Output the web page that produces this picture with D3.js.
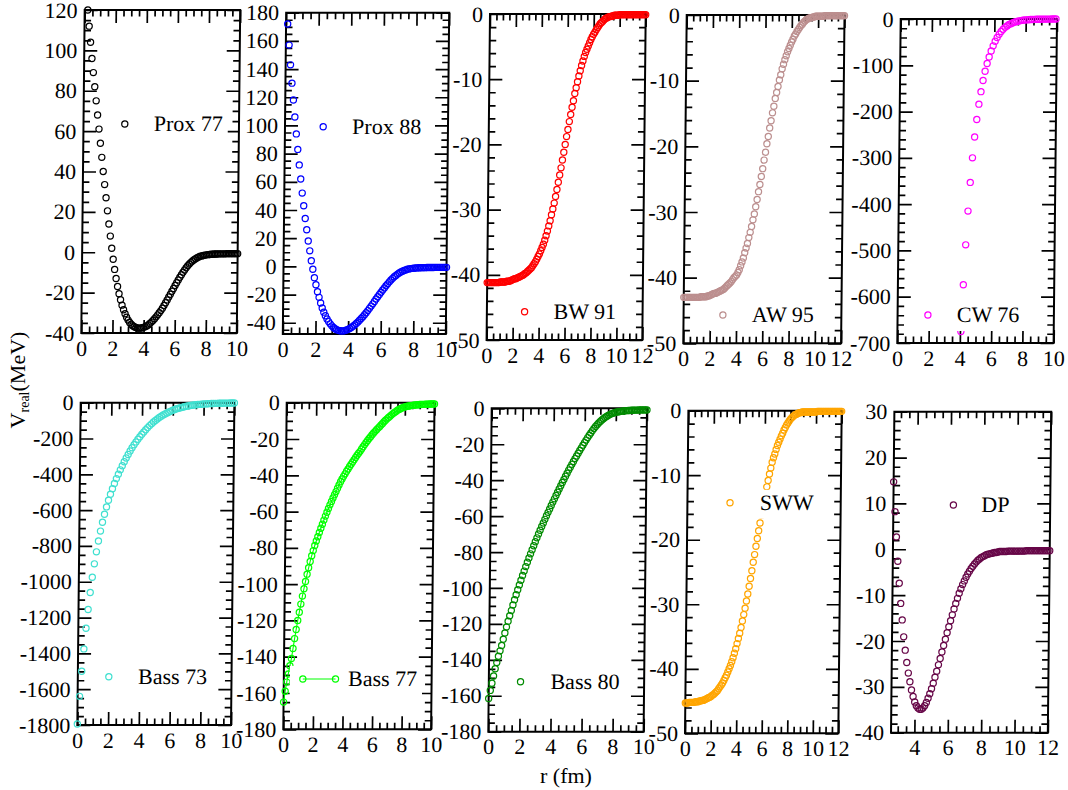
<!DOCTYPE html>
<html>
<head>
<meta charset="utf-8">
<script src="https://cdn.jsdelivr.net/npm/d3@7"></script>
<style>
body { margin: 0; background: #fff; }
text { font-family: "Liberation Serif", "Times New Roman", serif; }
</style>
</head>
<body>
<svg id="chart" width="1068" height="790"></svg>
<script>
// ---- data: V_real (MeV) sampled on r = rStart + i*rStep ----
var names  = ["Prox 77", "Prox 88", "BW 91", "AW 95", "CW 76", "Bass 73", "Bass 77", "Bass 80", "SWW", "DP"];
var colors = ["#000000", "#0000ff", "#ff0000", "#bc8f8f", "#ff00ff", "#40e0d0", "#00ff00", "#008b00", "#ffa500", "#670748"];
var rStart = [0.2, 0.1, 0, 0, 4.06, 0, 0, 0, 0, 2.6];
var rStep  = [0.1, 0.1, 0.1, 0.1, 0.125, 0.125, 0.1, 0.1, 0.1, 0.1];

var xDomains = [[0,10],[0,10],[0,12],[0,12],[0,10],[0,10],[0,10],[0,10],[0,12],[2.6,12]];
var yDomains = [[-40,120],[-48,180],[-50,0],[-50,0],[-700,0],[-1800,0],[-180,0],[-180,0],[-50,0],[-40,30]];
var yMajor = [20, 20, 10, 10, 100, 200, 20, 20, 10, 10];
var yMinor = [5, 5, 2, 2, 20, 50, 5, 5, 2, 2];
var xMajor = 2, xMinor = 0.5;

var prox77 = [120,112,104,96,89,82,75,68,61,54,
  47,40,33.5,27,20.5,14,8,2,-3.5,-8.5,
  -13,-17,-20.5,-23.5,-26.2,-28.5,-30.5,-32.2,-33.6,-34.8,
  -35.7,-36.4,-36.9,-37.3,-37.5,-37.6,-37.6,-37.4,-37.2,-36.9,
  -36.5,-36.0,-35.3,-34.6,-33.8,-32.9,-32.0,-31.0,-30.0,-28.9,
  -27.7,-26.4,-25.0,-23.6,-22.2,-20.8,-19.3,-17.9,-16.5,-15.1,
  -13.7,-12.4,-11.1,-9.9,-8.8,-7.7,-6.7,-5.8,-5.0,-4.3,
  -3.7,-3.2,-2.7,-2.3,-2.0,-1.8,-1.6,-1.4,-1.3,-1.2,
  -1.1,-1.0,-1.0,-0.9,-0.9,-0.9,-0.8,-0.8,-0.8,-0.8,
  -0.8,-0.7,-0.7,-0.7,-0.7,-0.7,-0.7,-0.7,-0.7];

var prox88 = [172,157,143,130,118,106,94,83,72,62,
  52,43,34,26,18,11,4,-2,-8,-13,
  -18,-22,-26,-29.5,-32.5,-35,-37.3,-39.2,-40.8,-42.2,
  -43.3,-44.2,-44.9,-45.4,-45.7,-45.8,-45.8,-45.6,-45.2,-44.7,
  -44.1,-43.4,-42.5,-41.6,-40.5,-39.4,-38.2,-37.0,-35.7,-34.3,
  -32.9,-31.4,-29.8,-28.2,-26.6,-24.9,-23.2,-21.6,-20.0,-18.4,
  -16.8,-15.3,-13.8,-12.4,-11.0,-9.7,-8.5,-7.4,-6.4,-5.5,
  -4.7,-4.0,-3.4,-2.9,-2.5,-2.1,-1.8,-1.6,-1.4,-1.3,
  -1.2,-1.1,-1.0,-1.0,-0.9,-0.9,-0.9,-0.8,-0.8,-0.8,
  -0.8,-0.8,-0.7,-0.7,-0.7,-0.7,-0.7,-0.7,-0.7,-0.7];

var bw91 = [-41.2,-41.2,-41.2,-41.2,-41.2,-41.2,-41.2,-41.2,-41.2,-41.2,
  -41.1,-41.1,-41.1,-41.1,-41.1,-41.0,-41.0,-41.0,-40.9,-40.8,
  -40.7,-40.6,-40.6,-40.5,-40.4,-40.3,-40.2,-40.1,-40.0,-39.8,
  -39.7,-39.5,-39.3,-39.1,-38.9,-38.6,-38.3,-38.0,-37.6,-37.2,
  -36.8,-36.3,-35.8,-35.3,-34.7,-34.0,-33.3,-32.5,-31.7,-30.8,
  -29.9,-29.0,-28.0,-26.9,-25.8,-24.7,-23.6,-22.4,-21.2,-20.0,
  -18.8,-17.7,-16.5,-15.4,-14.3,-13.3,-12.2,-11.3,-10.4,-9.5,
  -8.7,-7.9,-7.2,-6.5,-5.9,-5.4,-4.9,-4.4,-3.9,-3.5,
  -3.1,-2.8,-2.4,-2.1,-1.8,-1.5,-1.3,-1.1,-0.9,-0.7,
  -0.6,-0.5,-0.4,-0.4,-0.3,-0.3,-0.2,-0.2,-0.2,-0.2,
  -0.1,-0.1,-0.1,-0.1,-0.1,-0.1,-0.1,-0.1,-0.1,-0.1,
  -0.1,-0.1,-0.1,-0.1,-0.1,-0.1,-0.1,-0.1,-0.1,-0.1,-0.1];

var aw95 = [-43.0,-43.0,-43.0,-43.0,-43.0,-43.0,-43.0,-43.0,-43.0,-43.0,
  -43.0,-43.0,-43.0,-42.9,-42.9,-42.9,-42.9,-42.9,-42.8,-42.8,
  -42.7,-42.6,-42.5,-42.4,-42.4,-42.3,-42.2,-42.1,-42.0,-41.9,
  -41.8,-41.6,-41.4,-41.2,-41.0,-40.8,-40.6,-40.3,-40.0,-39.8,
  -39.6,-39.2,-38.8,-38.2,-37.6,-37.0,-36.2,-35.5,-34.8,-33.9,
  -33.1,-32.2,-31.2,-30.3,-29.2,-28.1,-26.9,-25.8,-24.6,-23.4,
  -22.1,-20.9,-19.6,-18.5,-17.2,-16.1,-14.9,-13.9,-12.7,-11.8,
  -10.9,-9.9,-9.1,-8.2,-7.5,-6.8,-6.2,-5.6,-5.1,-4.6,
  -4.1,-3.7,-3.2,-2.9,-2.5,-2.2,-1.9,-1.6,-1.4,-1.1,
  -0.9,-0.7,-0.6,-0.5,-0.4,-0.4,-0.3,-0.3,-0.2,-0.2,
  -0.2,-0.2,-0.2,-0.2,-0.2,-0.1,-0.1,-0.1,-0.1,-0.1,
  -0.1,-0.1,-0.1,-0.1,-0.1,-0.1,-0.1,-0.1,-0.1,-0.1,-0.1];

var cw76 = [-675,-574,-488,-415,-353,-300,-255,-217,-184,-157,
  -133,-113,-96,-82,-69,-58,-48,-40,-33,-27,
  -22,-18,-15,-12,-10,-8,-6.5,-5.3,-4.3,-3.5,
  -2.8,-2.3,-1.8,-1.5,-1.2,-1.0,-0.8,-0.6,-0.5,-0.4,
  -0.3,-0.3,-0.2,-0.2,-0.2,-0.1,-0.1,-0.1];

var bass73 = [-1794,-1640,-1500,-1375,-1260,-1155,-1060,-975,-900,-833,
  -772,-717,-668,-623,-582,-545,-511,-480,-451,-424,
  -399,-375,-352,-330,-309,-289,-270,-252,-235,-219,
  -204,-190,-176,-163,-151,-139,-128,-118,-108,-99,
  -91,-83,-76,-69,-63,-57,-52,-47,-42,-38,
  -34,-31,-28,-25,-22.5,-20,-18,-16,-14.5,-13,
  -11.5,-10.3,-9.2,-8.3,-7.4,-6.6,-5.9,-5.3,-4.8,-4.3,
  -3.9,-3.5,-3.2,-2.9,-2.7,-2.5,-2.3,-2.1,-2.0,-1.9,-1.8];

var bass77 = [-165,-159,-154,-149.5,-145,-141,-135.5,-130,-125,-120,
  -115.5,-111,-106.6,-102.5,-98.5,-94.5,-91,-87.5,-84.3,-81.5,
  -78.7,-76.2,-73.9,-71.5,-69.2,-67,-64.7,-62.5,-60.4,-58.3,
  -56.3,-54.4,-52.5,-50.7,-49,-47.1,-45.3,-43.6,-42,-40.6,
  -39.2,-37.8,-36.5,-35.2,-33.9,-32.7,-31.4,-30.2,-29,-27.9,
  -26.8,-25.5,-24.3,-23.1,-21.9,-20.8,-19.7,-18.7,-17.7,-16.7,
  -15.8,-14.9,-14.0,-13.2,-12.3,-11.4,-10.5,-9.7,-8.9,-8.1,
  -7.4,-6.7,-6.0,-5.4,-4.8,-4.2,-3.7,-3.3,-2.9,-2.6,
  -2.3,-2.1,-1.9,-1.8,-1.6,-1.5,-1.4,-1.3,-1.2,-1.1,
  -1.0,-1.0,-0.9,-0.9,-0.8,-0.8,-0.8,-0.7,-0.7,-0.7,-0.7];

var bass80 = [-161.5,-157,-153,-149,-145,-141.5,-138,-135,-132,-128.5,
  -125,-121.7,-118.5,-115.5,-112.5,-109.5,-106.5,-103.8,-101,-98.3,
  -95.7,-93.1,-90.6,-88.1,-85.7,-83.3,-81,-78.7,-76.5,-74.3,
  -72.1,-70,-67.9,-65.8,-63.8,-61.8,-59.8,-57.9,-56,-54.1,
  -52.2,-50.4,-48.5,-46.7,-44.9,-43.1,-41.3,-39.6,-37.8,-36.1,
  -34.4,-32.8,-31.2,-29.6,-28,-26.5,-25,-23.5,-22,-20.5,
  -19.1,-17.7,-16.3,-15,-13.7,-12.4,-11.2,-10.1,-9.1,-8.2,
  -7.3,-6.5,-5.8,-5.1,-4.5,-4.0,-3.5,-3.1,-2.8,-2.5,
  -2.2,-2.0,-1.9,-1.7,-1.6,-1.5,-1.4,-1.3,-1.2,-1.2,
  -1.1,-1.1,-1.0,-1.0,-1.0,-0.9,-0.9,-0.9,-0.9,-0.9,-0.9];

var sww = [-45.3,-45.3,-45.3,-45.2,-45.2,-45.2,-45.2,-45.2,-45.1,-45.1,
  -45.1,-45.0,-45.0,-44.9,-44.9,-44.8,-44.7,-44.6,-44.5,-44.4,
  -44.3,-44.1,-44.0,-43.8,-43.6,-43.4,-43.1,-42.8,-42.5,-42.2,
  -41.8,-41.4,-41.0,-40.5,-40.0,-39.5,-38.9,-38.3,-37.6,-36.9,
  -36.1,-35.3,-34.5,-33.6,-32.6,-31.6,-30.6,-29.5,-28.4,-27.2,
  -26.0,-24.8,-23.5,-22.3,-21.0,-19.8,-18.6,-17.4,-16.2,-15.1,
  -14.0,-12.9,-11.8,-10.8,-9.8,-8.9,-8.0,-7.3,-6.7,-6.0,
  -5.4,-4.9,-4.4,-3.9,-3.5,-3.0,-2.6,-2.2,-1.9,-1.6,
  -1.3,-1.1,-0.9,-0.7,-0.6,-0.5,-0.4,-0.3,-0.3,-0.2,
  -0.2,-0.2,-0.2,-0.2,-0.2,-0.2,-0.2,-0.2,-0.2,-0.2,
  -0.2,-0.1,-0.1,-0.1,-0.1,-0.1,-0.1,-0.1,-0.1,-0.1,
  -0.1,-0.1,-0.1,-0.1,-0.1,-0.1,-0.1,-0.1,-0.1,-0.1,-0.1];

var dp = [14.7,8.2,2.7,-2.6,-7.4,-11.8,-15.4,-19.1,-22,-24.7,
  -27,-28.9,-30.7,-32.1,-33.3,-34.1,-34.6,-34.9,-34.9,-34.6,
  -34.1,-33.4,-32.5,-31.5,-30.4,-29.2,-27.9,-26.6,-25.2,-23.8,
  -22.4,-21.0,-19.6,-18.2,-16.9,-15.6,-14.3,-13.0,-11.8,-10.7,
  -9.6,-8.6,-7.7,-6.9,-6.1,-5.4,-4.8,-4.2,-3.7,-3.2,
  -2.8,-2.4,-2.1,-1.8,-1.6,-1.4,-1.2,-1.1,-1.0,-0.9,
  -0.8,-0.7,-0.7,-0.6,-0.5,-0.5,-0.5,-0.5,-0.5,-0.4,
  -0.4,-0.4,-0.4,-0.4,-0.4,-0.4,-0.4,-0.4,-0.4,-0.4,
  -0.3,-0.3,-0.3,-0.3,-0.3,-0.3,-0.3,-0.3,-0.3,-0.3,
  -0.3,-0.3,-0.3,-0.3,-0.3];

var series = [prox77, prox88, bw91, aw95, cw76, bass73, bass77, bass80, sww, dp];

// ---- layout (pixels): frame [left, top, right, bottom], legend [cx, cy, textX] ----
var frames = [[83,10,238.5,333],[284.5,12.7,447.5,334],[488.3,14,644,340],[685,15,842.8,343.3],[899,19,1055.3,343],
              [79,402.7,232.7,725],[285,402.7,432.8,729.3],[490,408.3,645.3,731.7],[686.7,410.7,840,733.3],[892.7,411.7,1049.5,732.7]];
var legendPos = [[124.3,124,153.3],[322.7,126.7,351.7],[526,311.7,555],[724.3,315,753.3],[929.3,315,958.3],
                 [110,676.7,139.3],[304,679,349.3],[521.7,681.7,551.7],[729.3,502.7,759],[952.7,505,980.7]];
var skew = -0.6;
var serif = '"Liberation Serif", "Times New Roman", serif';

var svg = d3.select("#chart");
var fmt = function(d) { return String(+d.toFixed(2)); };

function tickVals(dom, step) {
  var a = Math.ceil(dom[0] / step - 1e-6), b = Math.floor(dom[1] / step + 1e-6);
  return d3.range(a, b + 1).map(function(k) { return +(k * step).toFixed(3); });
}
function minorVals(dom, step, major) {
  return tickVals(dom, step).filter(function(v) {
    return Math.abs(v / major - Math.round(v / major)) > 1e-6;
  });
}
function styleAxis(sel) {
  sel.selectAll(".domain").remove();
  sel.selectAll("line").attr("stroke", "#000").attr("stroke-width", 1.7);
  sel.selectAll("text")
    .attr("fill", "#000")
    .style("font-family", serif)
    .style("font-size", "22px");
}

series.forEach(function(vals, i) {
  var f = frames[i];
  var cy = (f[1] + f[3]) / 2;
  var g = svg.append("g")
    .attr("transform", "translate(0," + cy + ") skewX(" + skew + ") translate(0," + (-cy) + ")");

  var x = d3.scaleLinear().domain(xDomains[i]).range([f[0], f[2]]);
  var y = d3.scaleLinear().domain(yDomains[i]).range([f[3], f[1]]);

  var xMaj = tickVals(xDomains[i], xMajor), xMin = minorVals(xDomains[i], xMinor, xMajor);
  var yMaj = tickVals(yDomains[i], yMajor[i]), yMin = minorVals(yDomains[i], yMinor[i], yMajor[i]);

  // major + minor ticks on all four sides, pointing inward
  g.append("g").attr("transform", "translate(" + f[0] + ",0)")
    .call(d3.axisLeft(y).tickValues(yMaj).tickSize(-13).tickPadding(7).tickFormat(fmt)).call(styleAxis);
  g.append("g").attr("transform", "translate(" + f[0] + ",0)")
    .call(d3.axisLeft(y).tickValues(yMin).tickSize(-6.5).tickFormat("")).call(styleAxis);
  g.append("g").attr("transform", "translate(" + f[2] + ",0)")
    .call(d3.axisRight(y).tickValues(yMaj).tickSize(-13).tickFormat("")).call(styleAxis);
  g.append("g").attr("transform", "translate(" + f[2] + ",0)")
    .call(d3.axisRight(y).tickValues(yMin).tickSize(-6.5).tickFormat("")).call(styleAxis);
  g.append("g").attr("transform", "translate(0," + f[3] + ")")
    .call(d3.axisBottom(x).tickValues(xMaj).tickSize(-13).tickPadding(7).tickFormat(fmt)).call(styleAxis);
  g.append("g").attr("transform", "translate(0," + f[3] + ")")
    .call(d3.axisBottom(x).tickValues(xMin).tickSize(-6.5).tickFormat("")).call(styleAxis);
  g.append("g").attr("transform", "translate(0," + f[1] + ")")
    .call(d3.axisTop(x).tickValues(xMaj).tickSize(-13).tickFormat("")).call(styleAxis);
  g.append("g").attr("transform", "translate(0," + f[1] + ")")
    .call(d3.axisTop(x).tickValues(xMin).tickSize(-6.5).tickFormat("")).call(styleAxis);

  g.append("rect")
    .attr("x", f[0]).attr("y", f[1])
    .attr("width", f[2] - f[0]).attr("height", f[3] - f[1])
    .attr("fill", "none").attr("stroke", "#000").attr("stroke-width", 2);

  var pts = vals.map(function(v, k) { return [rStart[i] + k * rStep[i], v]; });

  // Bass 77 is plotted with line + symbols
  if (i === 6) {
    g.append("path").datum(pts)
      .attr("d", d3.line().x(function(d) { return x(d[0]); }).y(function(d) { return y(d[1]); }))
      .attr("fill", "none").attr("stroke", colors[i]).attr("stroke-width", 1.1);
  }

  g.selectAll("circle.pt").data(pts).enter().append("circle")
    .attr("class", "pt")
    .attr("cx", function(d) { return x(d[0]); })
    .attr("cy", function(d) { return y(d[1]); })
    .attr("r", 3.1)
    .attr("fill", "none")
    .attr("stroke", colors[i])
    .attr("stroke-width", 1.2);

  // legend (opaque box, as in the original)
  var lp = legendPos[i];
  var lg = g.append("g");
  var txt = lg.append("text")
    .attr("x", lp[2]).attr("y", lp[1] + 7.5)
    .attr("fill", "#000")
    .style("font-family", serif).style("font-size", "22px")
    .text(names[i]);
  var tw = txt.node().getComputedTextLength();
  lg.insert("rect", "text")
    .attr("x", lp[0] - 13).attr("y", lp[1] - 13)
    .attr("width", lp[2] + tw + 5 - (lp[0] - 13)).attr("height", 29)
    .attr("fill", "#fff");
  if (i === 6) {
    lg.append("line")
      .attr("x1", lp[0]).attr("x2", lp[0] + 32.7).attr("y1", lp[1]).attr("y2", lp[1])
      .attr("stroke", colors[i]).attr("stroke-width", 1.2);
    [lp[0], lp[0] + 32.7].forEach(function(cx) {
      lg.append("circle").attr("cx", cx).attr("cy", lp[1]).attr("r", 3.1)
        .attr("fill", "none").attr("stroke", colors[i]).attr("stroke-width", 1.2);
    });
  } else {
    lg.append("circle").attr("cx", lp[0]).attr("cy", lp[1]).attr("r", 3.1)
      .attr("fill", "none").attr("stroke", colors[i]).attr("stroke-width", 1.2);
  }
});

// axis titles
var yt = svg.append("text")
  .attr("transform", "translate(25,380) rotate(-90)")
  .attr("text-anchor", "middle")
  .attr("fill", "#000")
  .style("font-family", serif).style("font-size", "22px");
yt.append("tspan").text("V");
yt.append("tspan").style("font-size", "14px").attr("dy", 4).text("real");
yt.append("tspan").attr("dy", -4).text("(MeV)");

svg.append("text")
  .attr("x", 566).attr("y", 783)
  .attr("text-anchor", "middle")
  .attr("fill", "#000")
  .style("font-family", serif).style("font-size", "22px")
  .text("r (fm)");
</script>
</body>
</html>
